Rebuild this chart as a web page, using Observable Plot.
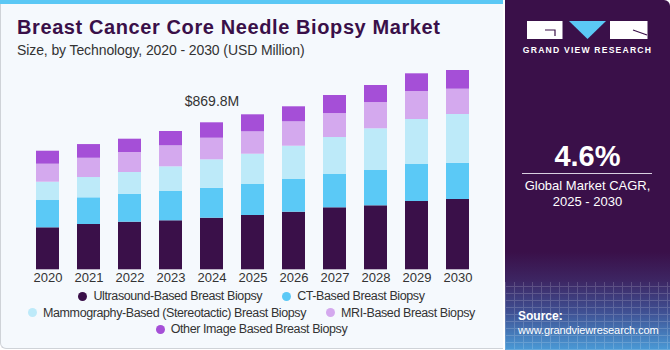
<!DOCTYPE html>
<html>
<head>
<meta charset="utf-8">
<script src="https://cdn.jsdelivr.net/npm/d3@7"></script>
<script src="https://cdn.jsdelivr.net/npm/@observablehq/plot@0.6"></script>
<style>
  html, body { margin: 0; padding: 0; background: #ffffff; }
  #root { position: relative; width: 670px; height: 350px; overflow: hidden; font-family: "Liberation Sans", Arial, sans-serif; }
  #left { position: absolute; left: 0; top: 0; width: 503px; height: 349px; background: #f5f9fd; border-left: 1px solid #cfd3d8; border-bottom: 1px solid #cfd3d8; border-radius: 0 0 0 6px; box-sizing: border-box; }
  #stripe { position: absolute; left: 0; top: 0; width: 503px; height: 4px; background: #5bc8f5; }
  #title { position: absolute; left: 17px; top: 16px; font-size: 20px; font-weight: bold; color: #3a1049; white-space: nowrap; letter-spacing: 0.6px; }
  #subtitle { position: absolute; left: 17px; top: 42px; font-size: 14px; color: #333333; white-space: nowrap; letter-spacing: -0.1px; }
  #plot { position: absolute; left: 0; top: 50px; }
  #legend { position: absolute; left: 0; top: 288px; width: 503px; font-size: 12.5px; color: #333333; letter-spacing: -0.4px; }
  .row { display: flex; justify-content: center; height: 16.5px; align-items: center; white-space: nowrap; }
  .item { display: flex; align-items: center; margin: 0 10px; }
  .dot { width: 9px; height: 9px; border-radius: 50%; margin-right: 6px; }
  #right { position: absolute; left: 505px; top: 0; width: 165px; height: 350px; border-radius: 0 6px 0 0;
    background: linear-gradient(to bottom, #3a1049 0%, #3a1049 72%, #3d2562 80%, #3f4f92 89%, #4a9ad6 100%); overflow: hidden; }
  #grid { position: absolute; left: 0; top: 282px; width: 165px; height: 68px; opacity: 0.16;
    background-image: repeating-linear-gradient(0deg, #ffffff 0 1px, transparent 1px 7px), repeating-linear-gradient(90deg, #ffffff 0 1px, transparent 1px 9px); }
  #brand { position: absolute; left: 0; top: 45px; width: 165px; text-align: center; color: #ffffff; font-size: 8.6px; font-weight: bold; letter-spacing: 1.2px; }
  #cagr { position: absolute; left: 0; top: 140px; width: 165px; text-align: center; color: #ffffff; font-size: 29px; font-weight: bold; }
  #rule { position: absolute; left: 17px; top: 173px; width: 130px; height: 1px; background: #d8d0e0; }
  #cagrtxt { position: absolute; left: 0; top: 178px; width: 165px; text-align: center; color: #ffffff; font-size: 13px; line-height: 16px; }
  #source { position: absolute; left: 13px; top: 309px; color: #ffffff; font-size: 11px; line-height: 14px; letter-spacing: -0.1px; white-space: nowrap; }
  #source b { font-size: 12px; letter-spacing: 0; }
</style>
</head>
<body>
<div id="root">
  <div id="left"></div>
  <div id="stripe"></div>
  <div id="title">Breast Cancer Core Needle Biopsy Market</div>
  <div id="subtitle">Size, by Technology, 2020 - 2030 (USD Million)</div>
  <div id="plot"></div>
  <div id="legend"></div>
  <div id="right">
    <svg width="165" height="45" style="position:absolute;left:0;top:0">
      <rect x="22" y="21" width="35.5" height="18" fill="#ffffff"/>
      <path d="M40 30 H50 V36" stroke="#3a1049" stroke-width="1.2" fill="none"/>
      <path d="M64 21 H101 L82.5 39 Z" fill="#5bc8f5"/>
      <rect x="105" y="21" width="37.5" height="18" fill="#ffffff"/>
      <path d="M128 30 L142 35" stroke="#3a1049" stroke-width="1.2" fill="none"/>
    </svg>
    <div id="brand">GRAND VIEW RESEARCH</div>
    <div id="cagr">4.6%</div>
    <div id="rule"></div>
    <div id="cagrtxt">Global Market CAGR,<br>2025 - 2030</div>
    <div id="grid"></div>
    <div id="source"><b>Source:</b><br>www.grandviewresearch.com</div>
  </div>
</div>
<script>
const years = ["2020","2021","2022","2023","2024","2025","2026","2027","2028","2029","2030"];
const seriesNames = [
  "Ultrasound-Based Breast Biopsy",
  "CT-Based Breast Biopsy",
  "Mammography-Based (Stereotactic) Breast Biopsy",
  "MRI-Based Breast Biopsy",
  "Other Image Based Breast Biopsy"
];
const seriesColors = ["#3a1049", "#5bc9f6", "#bdeaf9", "#d4a9ee", "#a54fd7"];
const ultrasound = [248.5, 268.0, 281.7, 290.0, 305.3, 321.3, 340.8, 366.9, 378.7, 404.1, 416.0];
const ctBased    = [161.5, 158.0, 165.7, 173.4, 177.5, 183.4, 193.5, 197.0, 208.9, 218.9, 214.8];
const mammo      = [108.3, 120.0, 128.4, 146.0, 168.0, 179.3, 197.0, 218.9, 246.7, 266.3, 288.2];
const mri        = [106.5, 114.0, 118.3, 124.3, 127.8, 132.5, 144.4, 142.0, 155.6, 165.7, 149.7];
const other      = [ 76.9,  81.0,  78.7,  84.6,  91.2, 100.6,  88.8, 106.5, 100.6, 104.7, 110.6];
const annotationYear = "2024";
const annotationText = "$869.8M";
const legendRows = [[0, 1], [2, 3], [4]];

const seriesValues = [ultrasound, ctBased, mammo, mri, other];
const rows = [];
seriesNames.forEach((s, i) => years.forEach((y, j) => rows.push({year: y, series: s, value: seriesValues[i][j]})));
const totals = years.map((y, j) => ({year: y, total: d3.sum(seriesValues, v => v[j])}));
const labelRows = totals.filter(d => d.year === annotationYear).map(d => ({...d, label: annotationText}));

const chart = Plot.plot({
  width: 503,
  height: 245,
  marginTop: 16.5,
  marginBottom: 25.7,
  marginLeft: 12.7,
  marginRight: 10.3,
  style: {background: "transparent", fontFamily: "Liberation Sans, Arial, sans-serif"},
  x: {domain: years, padding: 0.4286, label: null},
  y: {domain: [0, 1200], axis: null},
  color: {domain: seriesNames, range: seriesColors},
  marks: [
    Plot.barY(rows, {x: "year", y: "value", fill: "series", order: seriesNames}),
    Plot.axisX({tickSize: 0, tickPadding: 3, fontSize: 13, color: "#333333"}),
    Plot.text(labelRows, {x: "year", y: "total", text: "label", dy: -17, lineAnchor: "bottom", fontSize: 14, fill: "#333333"})
  ]
});
document.getElementById("plot").appendChild(chart);

const legend = document.getElementById("legend");
legendRows.forEach(r => {
  const row = document.createElement("div");
  row.className = "row";
  r.forEach(i => {
    const it = document.createElement("div");
    it.className = "item";
    const dot = document.createElement("span");
    dot.className = "dot";
    dot.style.background = seriesColors[i];
    const t = document.createElement("span");
    t.textContent = seriesNames[i];
    it.appendChild(dot); it.appendChild(t);
    row.appendChild(it);
  });
  legend.appendChild(row);
});
</script>
</body>
</html>
